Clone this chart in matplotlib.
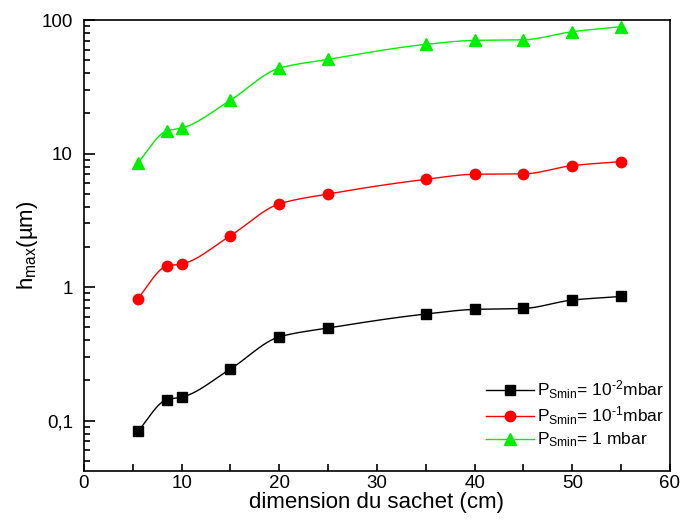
import numpy as np
import matplotlib
matplotlib.use("Agg")
import matplotlib.pyplot as plt
from matplotlib.ticker import FixedLocator, FixedFormatter, LogLocator, NullFormatter, MultipleLocator

plt.rcParams['font.family'] = ['Liberation Sans', 'DejaVu Sans']
plt.rcParams['mathtext.fontset'] = 'custom'
plt.rcParams['mathtext.rm'] = 'Liberation Sans'
plt.rcParams['mathtext.it'] = 'Liberation Sans'

# sachet dimension (cm)
dimension = [5.5, 8.5, 10, 15, 20, 25, 35, 40, 45, 50, 55]

# h_max (um) for each minimum pressure
h_1e2 = [0.083, 0.144, 0.150, 0.244, 0.424, 0.494, 0.629, 0.681, 0.692, 0.80, 0.851]
h_1e1 = [0.82, 1.44, 1.49, 2.43, 4.2, 4.98, 6.41, 7.0, 7.04, 8.13, 8.7]
h_1 = [8.5, 14.8, 15.5, 25.1, 43.6, 50.7, 65.7, 70.4, 71.1, 81.7, 89.2]

labels = [r'P$_{\mathrm{Smin}}$= 10$^{\text{-2}}$mbar',
          r'P$_{\mathrm{Smin}}$= 10$^{\text{-1}}$mbar',
          r'P$_{\mathrm{Smin}}$= 1 mbar']

y_ticks = [0.1, 1, 10, 100]
y_ticklabels = ['0,1', '1', '10', '100']


def smooth_curve(x, y, n=40):
    # monotone cubic (pchip) through the points, done in log10(y)
    x = np.asarray(x, float)
    ly = np.log10(np.asarray(y, float))
    h = np.diff(x)
    d = np.diff(ly) / h
    m = np.zeros_like(ly)
    for i in range(1, len(x) - 1):
        if d[i - 1] * d[i] > 0:
            w1 = 2 * h[i] + h[i - 1]
            w2 = h[i] + 2 * h[i - 1]
            m[i] = (w1 + w2) / (w1 / d[i - 1] + w2 / d[i])
    m[0] = d[0]
    m[-1] = d[-1]
    xs, ys = [], []
    for i in range(len(x) - 1):
        t = np.linspace(0, 1, n)
        h00 = 2 * t**3 - 3 * t**2 + 1
        h10 = t**3 - 2 * t**2 + t
        h01 = -2 * t**3 + 3 * t**2
        h11 = t**3 - t**2
        seg = h00 * ly[i] + h10 * h[i] * m[i] + h01 * ly[i + 1] + h11 * h[i] * m[i + 1]
        xs.append(x[i] + t * h[i])
        ys.append(seg)
    return np.concatenate(xs), 10 ** np.concatenate(ys)


fig = plt.figure(figsize=(6.81, 5.21), dpi=100)
ax = fig.add_axes([0.1233, 0.096, 0.8605, 0.8656])

series = [(h_1e2, 'black', 's', 6.5),
          (h_1e1, 'red', 'o', 7.5),
          (h_1, '#00ee00', '^', 8.5)]

for (vals, col, mk, ms), lab in zip(series, labels):
    xs, ys = smooth_curve(dimension, vals)
    ax.plot(xs, ys, color=col, lw=1.0, zorder=2)
    ax.plot(dimension, vals, linestyle='none', marker=mk, color=col, ms=ms, zorder=3)
    ax.plot([], [], color=col, lw=1.0, marker=mk, ms=ms, label=lab)

ax.set_yscale('log')
ax.set_xlim(0, 60)
ax.set_ylim(0.042, 100)

ax.xaxis.set_major_locator(MultipleLocator(10))
ax.xaxis.set_minor_locator(MultipleLocator(5))
ax.yaxis.set_major_locator(FixedLocator(y_ticks))
ax.yaxis.set_major_formatter(FixedFormatter(y_ticklabels))
ax.yaxis.set_minor_locator(LogLocator(base=10, subs=np.arange(2, 10)))
ax.yaxis.set_minor_formatter(NullFormatter())

ax.tick_params(axis='both', which='both', direction='in', labelsize=13.5, width=1.2)
ax.tick_params(axis='y', which='major', length=8, pad=8)
ax.tick_params(axis='y', which='minor', length=4)
ax.tick_params(axis='x', which='both', length=5, pad=3)

for s in ax.spines.values():
    s.set_linewidth(1.2)

ax.set_xlabel('dimension du sachet (cm)', fontsize=16, labelpad=0)
ax.set_ylabel(r'h$_{\mathrm{max}}$(µm)', fontsize=16, labelpad=1)

ax.legend(loc='lower right', bbox_to_anchor=(0.995, 0.04), frameon=False,
          fontsize=12.5, handlelength=2.75, handletextpad=0.15, labelspacing=0.2,
          borderaxespad=0.0, borderpad=0.2)

fig.savefig('out.png', dpi=100)
